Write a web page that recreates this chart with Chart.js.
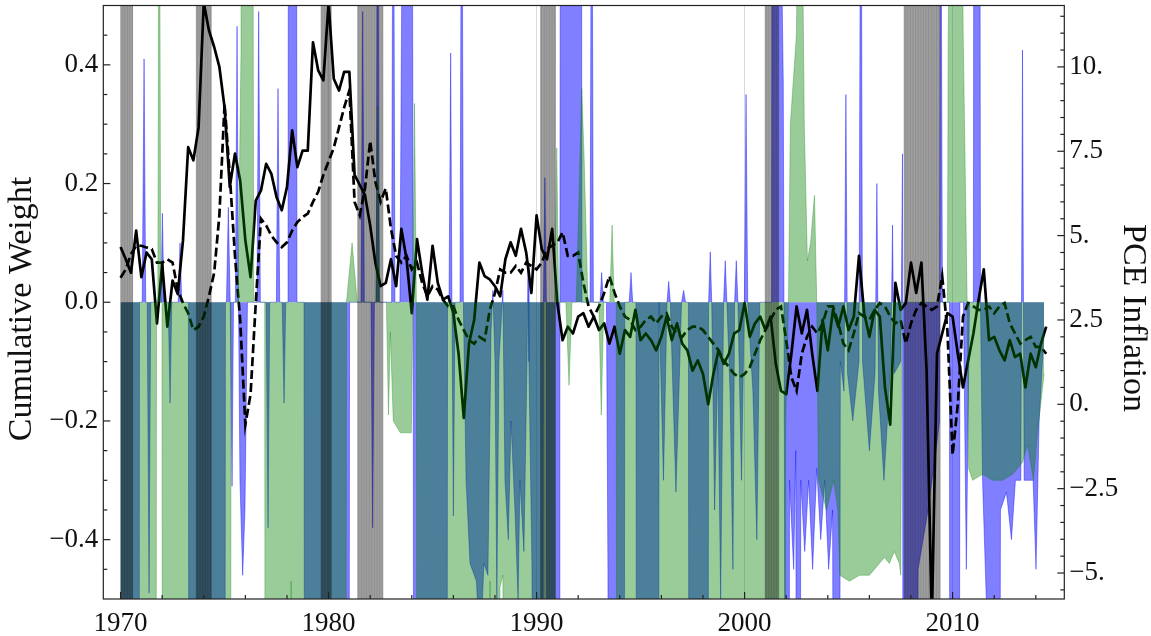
<!DOCTYPE html>
<html>
<head>
<meta charset="utf-8">
<script src="https://cdn.jsdelivr.net/npm/chart.js@4.4.1/dist/chart.umd.min.js"></script>
<style>
  html, body { margin: 0; padding: 0; background: #fff; }
</style>
</head>
<body>
<canvas id="chart" width="1151" height="636"></canvas>
<script>
// quarterly sample dates for the inflation lines, 1970Q1 .. 2014Q3
const firstYear = 1970;
const quarterCount = 179;
const quarters = [];
for (let i = 0; i < quarterCount; i++) quarters.push(firstYear + i / 4);

// cumulative weights (left axis), read as (date, value) breakpoints
const blueYears = [
  1970.00, 1970.85, 1970.91, 1971.04, 1971.13, 1971.21, 1971.28, 1971.37, 1971.45, 1971.94,
  1972.01, 1972.09, 1972.29, 1972.38, 1972.46, 1972.77, 1972.86, 1972.94, 1973.26, 1973.34,
  1974.97, 1975.04, 1975.09, 1975.18, 1975.27, 1975.36, 1975.43, 1975.52, 1975.60, 1975.67,
  1975.74, 1975.87, 1975.98, 1976.10, 1976.56, 1976.64, 1976.72, 1977.00, 1977.09, 1977.17,
  1977.49, 1977.57, 1977.65, 1977.77, 1977.86, 1977.94, 1978.05, 1978.12, 1978.41, 1978.48,
  1978.82, 1978.89, 1980.93, 1981.01, 1981.56, 1981.64, 1981.72, 1982.04, 1982.12, 1982.20,
  1982.29, 1982.36, 1982.43, 1983.03, 1983.11, 1983.19, 1983.43, 1983.53, 1983.72, 1983.88,
  1984.01, 1984.07, 1984.13, 1985.64, 1985.72, 1985.79, 1985.87, 1985.93, 1986.00, 1986.08,
  1986.32, 1986.40, 1986.48, 1986.61, 1986.80, 1987.11, 1987.28, 1987.47, 1987.66, 1987.81,
  1987.90, 1988.00, 1988.09, 1988.19, 1988.38, 1988.48, 1988.64, 1988.77, 1988.96, 1989.11,
  1989.20, 1989.39, 1989.54, 1989.59, 1989.63, 1989.78, 1989.97, 1990.26, 1990.33, 1990.40,
  1990.47, 1990.55, 1991.08, 1991.12, 1991.20, 1992.11, 1992.18, 1992.57, 1992.65, 1992.73,
  1993.05, 1993.13, 1993.21, 1993.36, 1993.43, 1993.53, 1994.15, 1994.24, 1994.45, 1994.54,
  1994.62, 1994.78, 1994.85, 1995.82, 1995.89, 1996.10, 1996.27, 1996.35, 1996.43, 1996.70,
  1996.97, 1997.07, 1997.16, 1997.30, 1997.38, 1998.19, 1998.27, 1998.35, 1998.42, 1998.56,
  1998.71, 1998.85, 1998.99, 1999.07, 1999.15, 1999.30, 1999.44, 1999.52, 1999.60, 1999.68,
  1999.85, 1999.99, 2000.07, 2000.15, 2000.40, 2000.59, 2000.73, 2001.30, 2001.38, 2001.62,
  2001.86, 2001.91, 2002.06, 2002.16, 2002.36, 2002.46, 2002.60, 2002.70, 2002.89, 2003.08,
  2003.27, 2003.47, 2003.66, 2003.85, 2004.04, 2004.23, 2004.42, 2004.52, 2004.60, 2004.78,
  2004.87, 2004.95, 2005.20, 2005.50, 2005.59, 2005.67, 2006.00, 2006.27, 2006.36, 2006.44,
  2006.70, 2007.03, 2007.11, 2007.19, 2007.51, 2007.59, 2007.66, 2008.10, 2008.34, 2008.82,
  2009.20, 2009.37, 2009.42, 2009.51, 2009.85, 2009.89, 2010.28, 2010.35, 2010.52, 2010.66,
  2010.81, 2011.00, 2011.07, 2011.24, 2011.34, 2011.44, 2011.62, 2011.78, 2012.16, 2012.30,
  2012.59, 2012.83, 2013.02, 2013.28, 2013.36, 2013.44, 2013.87, 2014.01, 2014.16, 2014.40
];
const blueValues = [
  -3, -3, 0, 0, 0.41, 0, 0, -0.49, 0, 0,
  0.15, 0, 0, -0.17, 0, 0, 0.1, 0, 0, -3,
  -3, 0, 0, 0.16, 0, -0.31, 0, 0, 0.465, 0,
  -0.3, -0.46, -0.35, 0, 0, 0.49, 0, 0, -0.38, 0,
  0, 0.36, 0, 0, -0.17, 0, 0, 3, 3, 0,
  0, -3, -3, 0, 0, 0.49, 0, 0, -0.38, 0,
  0, 1, 0, 0, 1, 0, 0, 0.6, 0.8, 2,
  1, 0, -3, -3, 0, 0, 0.42, 0, -0.36, 0,
  0, 1, 0, -0.3, -0.44, -0.47, -0.6, -0.44, -0.46, -0.05,
  0.02, -0.1, -0.5, -0.1, 0.02, -0.3, -0.4, -0.2, -0.35, -0.5,
  -0.3, -0.42, -0.1, 0.065, -0.1, -0.45, -3, -3, 0, 0.21,
  0, -3, -3, 0, 3, 3, 0, 0, 1, 0,
  0, 0.05, 0, 0, -0.45, -3, -3, 0, 0, 0.05,
  0, 0, -3, -3, 0, -0.3, 0, 0.035, 0, -0.32,
  0, 0.02, 0, 0, -3, -3, 0, 0.085, 0, -0.35,
  -0.1, -0.5, 0, 0.07, 0, -0.15, -0.45, 0, 0.07, 0,
  -0.3, 0, 0.35, 0, -0.15, -0.4, 0, 0, 3, 1,
  0.37, -0.2, -3, -0.3, -0.45, -0.25, -3, -0.3, -0.42, -0.3,
  -0.45, -0.28, -0.4, -0.3, -0.45, -0.35, -3, -3, -0.1, -0.15,
  0.35, -0.12, -0.2, -0.1, 1, -0.1, -0.25, -0.12, 0.2, -0.15,
  -0.3, -0.1, 0.13, -0.12, -0.1, 0.25, -3, -3, -0.45, -0.35,
  -0.25, -0.2, 1, 0, 0, -3, -3, 0, 0, -0.45,
  0, 0, 3, 3, 0, -0.3, -0.5, -3, -3, -0.35,
  -0.32, -0.4, -0.3, -0.3, 0.425, -0.3, -0.3, -0.45, -0.2, -0.05
];
const greenYears = [
  1970.00, 1971.65, 1971.73, 1971.79, 1971.86, 1971.93, 1971.99, 1972.06, 1975.26, 1975.31,
  1975.64, 1975.79, 1975.88, 1976.26, 1976.40, 1976.93, 1976.98, 1978.08, 1978.20, 1978.32,
  1980.79, 1980.86, 1981.13, 1981.38, 1982.27, 1982.36, 1982.46, 1982.78, 1982.88, 1982.97,
  1983.11, 1983.45, 1983.98, 1984.05, 1984.13, 1984.22, 1984.31, 1987.61, 1987.76, 1987.90,
  1988.14, 1988.24, 1988.38, 1988.52, 1990.84, 1990.87, 1990.97, 1991.06, 1991.41, 1991.56,
  1991.70, 1991.91, 1992.17, 1992.28, 1992.47, 1992.99, 1993.11, 1993.23, 1993.52, 1993.63,
  1993.73, 1993.83, 1993.90, 2001.91, 2001.98, 2002.11, 2002.20, 2002.49, 2002.68, 2002.87,
  2003.02, 2003.17, 2003.36, 2003.47, 2003.55, 2003.94, 2004.28, 2004.48, 2004.58, 2005.04,
  2005.52, 2006.00, 2006.48, 2006.72, 2006.96, 2007.20, 2007.44, 2007.51, 2007.56, 2009.75,
  2009.79, 2009.98, 2010.37, 2010.51, 2010.70, 2010.77, 2010.96, 2011.44, 2011.92, 2012.40,
  2012.88, 2013.36, 2013.60, 2013.89, 2014.08, 2014.40
];
const greenValues = [
  -3, -3, 0, 0, 1, 0, 0, -3, -3, 0,
  0, 0.42, 3, 3, 0, 0, -3, -3, -0.47, -3,
  -3, 0, 0.1, 0, 0, 0.33, 0, 0, -0.19, -0.05,
  -0.2, -0.22, -0.22, 0, 0.335, 0, -3, -3, -0.47, -3,
  -3, -0.48, -0.46, -3, -3, 0, 0.26, 0, 0, -0.14,
  0, 0, 0.36, 0.25, 0, 0, -0.19, 0, 0, 0.13,
  0, 0, -3, -3, -0.2, 0, 0.3, 0.45, 1, 0.3,
  0.07, 0.1, 0.18, 0, -0.3, -0.35, -0.3, -0.35, -0.46, -0.47,
  -0.46, -0.46, -0.44, -0.43, -0.44, -0.42, -0.44, -0.46, 0, 0,
  0.45, 1, 1, 0.45, 0, -0.28, -0.3, -0.29, -0.3, -0.3,
  -0.29, -0.27, -0.24, -0.3, -0.22, -0.12
];

// PCE inflation (right axis), quarterly, one row per year
const pceActual = [
  4.66, 4.3, 3.9, 5.15,   3.77, 4.5, 4.3, 2.4,    4.17, 2.3, 3.67, 3.27,   4.85, 7.62, 7.23, 8.2,
  11.9, 11.08, 10.59, 10.0, 8.8, 6.44, 7.43, 6.63, 4.86, 3.77, 6.04, 6.34, 7.13, 6.83, 6.14, 5.75,
  6.44, 8.12, 7.03, 7.52, 7.52, 10.73, 9.9, 9.6,  11.9, 9.65, 9.3, 9.85,   9.85, 6.8, 6.5, 6.2,
  5.3, 4.2, 3.5, 3.6,     4.3, 3.5, 5.2, 4.3,     2.7, 4.9, 3.9, 3.1,      4.7, 3.6, 3.1, 3.2,
  2.7, 1.5, -0.4, 1.8,    2.5, 4.2, 3.8, 3.7,     3.5, 3.2, 4.3, 4.8,      4.4, 5.2, 4.5, 3.3,
  5.6, 4.6, 4.3, 5.2,     3.0, 1.9, 2.3, 2.1,     2.6, 2.7, 2.3, 2.6,      2.2, 2.4, 1.8, 2.3,
  1.5, 2.2, 2.0, 2.8,     1.9, 2.1, 1.9, 1.6,     2.0, 2.6, 1.9, 2.4,      1.8, 1.6, 1.0, 1.3,
  0.9, 0.0, 0.9, 1.6,     1.2, 1.5, 2.1, 2.2,     3.0, 2.0, 2.4, 2.6,      2.2, 2.6, 1.2, 0.4,
  0.3, 1.5, 2.9, 2.1,     2.8, 1.5, 0.4, 2.5,     1.6, 2.8, 2.3, 2.9,      2.2, 2.6, 4.4, 2.7,
  2.0, 2.8, 2.6, 0.5,     -0.6, 3.6, 2.8, 3.0,    4.2, 3.3, 4.2, 1.0,      -6.5, 1.5, 2.1, 2.7,
  2.6, 1.5, 0.5, 1.3,     2.1, 3.1, 4.0, 1.9,     2.0, 1.6, 1.3, 1.9,      1.4, 1.5, 0.5, 1.5,
  1.1, 1.8, 2.3
];
const pceDashed = [
  3.75, 4.0, 4.45, 4.7,   4.7, 4.65, 4.6, 4.2,    4.2, 4.3, 4.2, 3.4,      3.0, 2.7, 2.2, 2.3,
  2.6, 3.2, 3.9, 5.6,     8.9, 6.8, 4.4, 2.5,     -0.6, 0.3, 3.0, 5.5,     5.3, 5.0, 4.8, 4.66,
  4.8, 5.15, 5.4, 5.55,   5.65, 6.0, 6.3, 6.8,    7.2, 7.6, 8.2, 8.8,      9.3, 6.0, 5.6, 6.4,
  7.8, 6.6, 6.0, 6.4,     5.2, 4.4, 4.2, 4.4,     4.0, 4.2, 3.6, 3.2,      3.5, 3.4, 3.1, 2.9,
  2.9, 2.5, 2.2, 1.9,     1.8, 2.0, 1.9, 2.8,     3.3, 4.0, 3.9, 3.9,      4.1, 3.9, 4.2, 4.1,
  4.0, 4.2, 4.6, 4.7,     4.8, 5.1, 4.4, 4.4,     4.5, 3.6, 2.9, 2.6,      2.9, 3.3, 3.8, 3.3,
  2.9, 2.6, 2.5, 2.2,     2.3, 2.5, 2.6, 2.4,     2.6, 2.7, 2.3, 2.1,      2.0, 2.2, 2.3, 2.3,
  2.2, 2.0, 1.8, 1.6,     1.3, 1.1, 0.9, 0.8,     0.9, 1.1, 1.5, 1.9,      2.2, 2.5, 2.8, 2.9,
  1.9, 0.8, 0.4, 1.5,     2.0, 2.3, 2.1, 2.4,     2.9, 2.9, 2.4, 1.8,      1.6, 2.1, 2.7, 2.6,
  2.5, 2.8, 3.0, 2.9,     2.6, 2.4, 2.5, 1.8,     2.4, 2.8, 3.0, 2.9,      2.8, 2.9, 3.8, 2.2,
  -1.5, 0.0, 2.6, 3.0,    2.9, 2.8, 2.8, 2.9,     2.7, 2.9, 3.0, 2.4,      2.1, 1.8, 1.9, 2.0,
  1.7, 1.7, 1.5
];

// recession shading (start, end) in years
const recessionStart = [1970.0, 1973.62, 1979.62, 1981.38, 1990.17, 2000.97, 2007.65];
const recessionEnd   = [1970.6, 1974.38, 1980.15, 1982.63, 1990.93, 2001.66, 2009.42];

// ticks and labels
const yearTicks = [1970, 1980, 1990, 2000, 2010];
const weightTicks = [-0.4, -0.2, 0, 0.2, 0.4];
const weightTickLabels = ['\u22120.4', '\u22120.2', '0.0', '0.2', '0.4'];
const pceTicks = [-5, -2.5, 0, 2.5, 5, 7.5, 10];
const pceTickLabels = ['\u22125.', '\u22122.5', '0.', '2.5', '5.', '7.5', '10.'];
const leftTitle = 'Cumulative Weight';
const rightTitle = 'PCE Inflation';

const serif = '"Liberation Serif", "DejaVu Serif", serif';
const tickFont = { family: serif, size: 27 };

const pairs = (xs, ys) => xs.map((x, i) => ({ x: x, y: ys[i] }));

// minor tick positions
const minorYears = [], minorWeight = [], minorPce = [];
for (let y = 1970; y <= 2014; y += 2) if (y % 10) minorYears.push(y);
for (let k = -9; k <= 9; k++) if (k % 4) minorWeight.push(k * 0.05);
for (let k = -11; k <= 23; k++) if (k % 5) minorPce.push(k * 0.5);

const decorations = {
  id: 'decorations',
  afterDatasetsDraw(chart) {
    const { ctx, chartArea: a, scales } = chart;
    ctx.save();
    ctx.beginPath();
    ctx.rect(a.left, a.top, a.right - a.left, a.bottom - a.top);
    ctx.clip();
    recessionStart.forEach((s, k) => {
      const x0 = scales.x.getPixelForValue(s);
      const x1 = scales.x.getPixelForValue(recessionEnd[k]);
      ctx.fillStyle = 'rgba(0,0,0,0.38)';
      ctx.fillRect(x0, a.top, x1 - x0, a.bottom - a.top);
      for (let px = x0 + 1; px < x1 - 1; px += 2.6) {
        ctx.fillStyle = 'rgba(0,0,0,0.10)';
        ctx.fillRect(px, a.top, 1, a.bottom - a.top);
      }
    });
    ctx.restore();
  },
  afterDraw(chart) {
    const { ctx, chartArea: a, scales } = chart;
    ctx.save();
    ctx.strokeStyle = '#222';
    ctx.lineWidth = 1.2;
    const tick = (x0, y0, x1, y1) => { ctx.beginPath(); ctx.moveTo(x0, y0); ctx.lineTo(x1, y1); ctx.stroke(); };
    weightTicks.forEach(v => { const y = scales.y.getPixelForValue(v); tick(a.left, y, a.left + 7, y); });
    minorWeight.forEach(v => { const y = scales.y.getPixelForValue(v); tick(a.left, y, a.left + 4, y); });
    pceTicks.forEach(v => { const y = scales.y1.getPixelForValue(v); tick(a.right, y, a.right - 7, y); });
    minorPce.forEach(v => { const y = scales.y1.getPixelForValue(v); tick(a.right, y, a.right - 4, y); });
    yearTicks.forEach(v => { const x = scales.x.getPixelForValue(v); tick(x, a.bottom, x, a.bottom - 7); });
    minorYears.forEach(v => { const x = scales.x.getPixelForValue(v); tick(x, a.bottom, x, a.bottom - 4); });
    ctx.strokeRect(a.left, a.top, a.right - a.left, a.bottom - a.top);

    ctx.fillStyle = '#111';
    ctx.font = '34px ' + serif;
    ctx.textAlign = 'center';
    ctx.textBaseline = 'middle';
    ctx.save();
    ctx.translate(22, 309);
    ctx.rotate(-Math.PI / 2);
    ctx.fillText(leftTitle, 0, 0);
    ctx.restore();
    ctx.save();
    ctx.translate(1133, 318);
    ctx.rotate(Math.PI / 2);
    ctx.fillText(rightTitle, 0, 0);
    ctx.restore();
    ctx.restore();
  }
};

new Chart(document.getElementById('chart'), {
  type: 'line',
  data: {
    datasets: [
      {
        data: pairs(blueYears, blueValues), yAxisID: 'y', order: 4,
        fill: 'origin', backgroundColor: 'rgba(0,0,255,0.5)',
        borderColor: 'rgba(0,0,255,0.5)', borderWidth: 0.8,
        pointRadius: 0, tension: 0, clip: 0
      },
      {
        data: pairs(quarters, pceActual), yAxisID: 'y1', order: 3,
        fill: false, borderColor: '#000', borderWidth: 2.7,
        borderJoinStyle: 'round', pointRadius: 0, tension: 0, clip: 0
      },
      {
        data: pairs(quarters, pceDashed), yAxisID: 'y1', order: 2,
        fill: false, borderColor: '#000', borderWidth: 2.7, borderDash: [9, 4],
        pointRadius: 0, tension: 0, clip: 0
      },
      {
        data: pairs(greenYears, greenValues), yAxisID: 'y', order: 1,
        fill: 'origin', backgroundColor: 'rgba(0,128,0,0.4)',
        borderColor: 'rgba(0,128,0,0.4)', borderWidth: 0.8,
        pointRadius: 0, tension: 0, clip: 0
      }
    ]
  },
  options: {
    responsive: false,
    animation: false,
    devicePixelRatio: 1,
    layout: { padding: { top: 5.5, left: 0, right: 0, bottom: 0 } },
    plugins: { legend: { display: false }, tooltip: { enabled: false } },
    scales: {
      x: {
        type: 'linear', min: 1969.17, max: 2015.37,
        afterBuildTicks: s => { s.ticks = yearTicks.map(v => ({ value: v })); },
        afterFit: s => { s.height = 37; s.paddingLeft = 0; s.paddingRight = 0; },
        ticks: { font: tickFont, color: '#111', padding: 9, maxRotation: 0, autoSkip: false,
                 callback: v => String(v) },
        grid: { color: '#dadada', lineWidth: 1, drawTicks: false },
        border: { display: false }
      },
      y: {
        position: 'left', min: -0.5, max: 0.5,
        afterBuildTicks: s => { s.ticks = weightTicks.map(v => ({ value: v })); },
        afterFit: s => { s.width = 103.3; s.paddingTop = 0; s.paddingBottom = 0; },
        ticks: { font: tickFont, color: '#111', padding: 5, autoSkip: false,
                 callback: (v, i) => weightTickLabels[i] },
        grid: { display: false, drawTicks: false },
        border: { display: false }
      },
      y1: {
        position: 'right', min: -5.77, max: 11.82,
        afterBuildTicks: s => { s.ticks = pceTicks.map(v => ({ value: v })); },
        afterFit: s => { s.width = 86.7; s.paddingTop = 0; s.paddingBottom = 0; },
        ticks: { font: tickFont, color: '#111', padding: 5, autoSkip: false,
                 callback: (v, i) => pceTickLabels[i] },
        grid: { display: false, drawTicks: false },
        border: { display: false }
      }
    }
  },
  plugins: [decorations]
});
</script>
</body>
</html>
